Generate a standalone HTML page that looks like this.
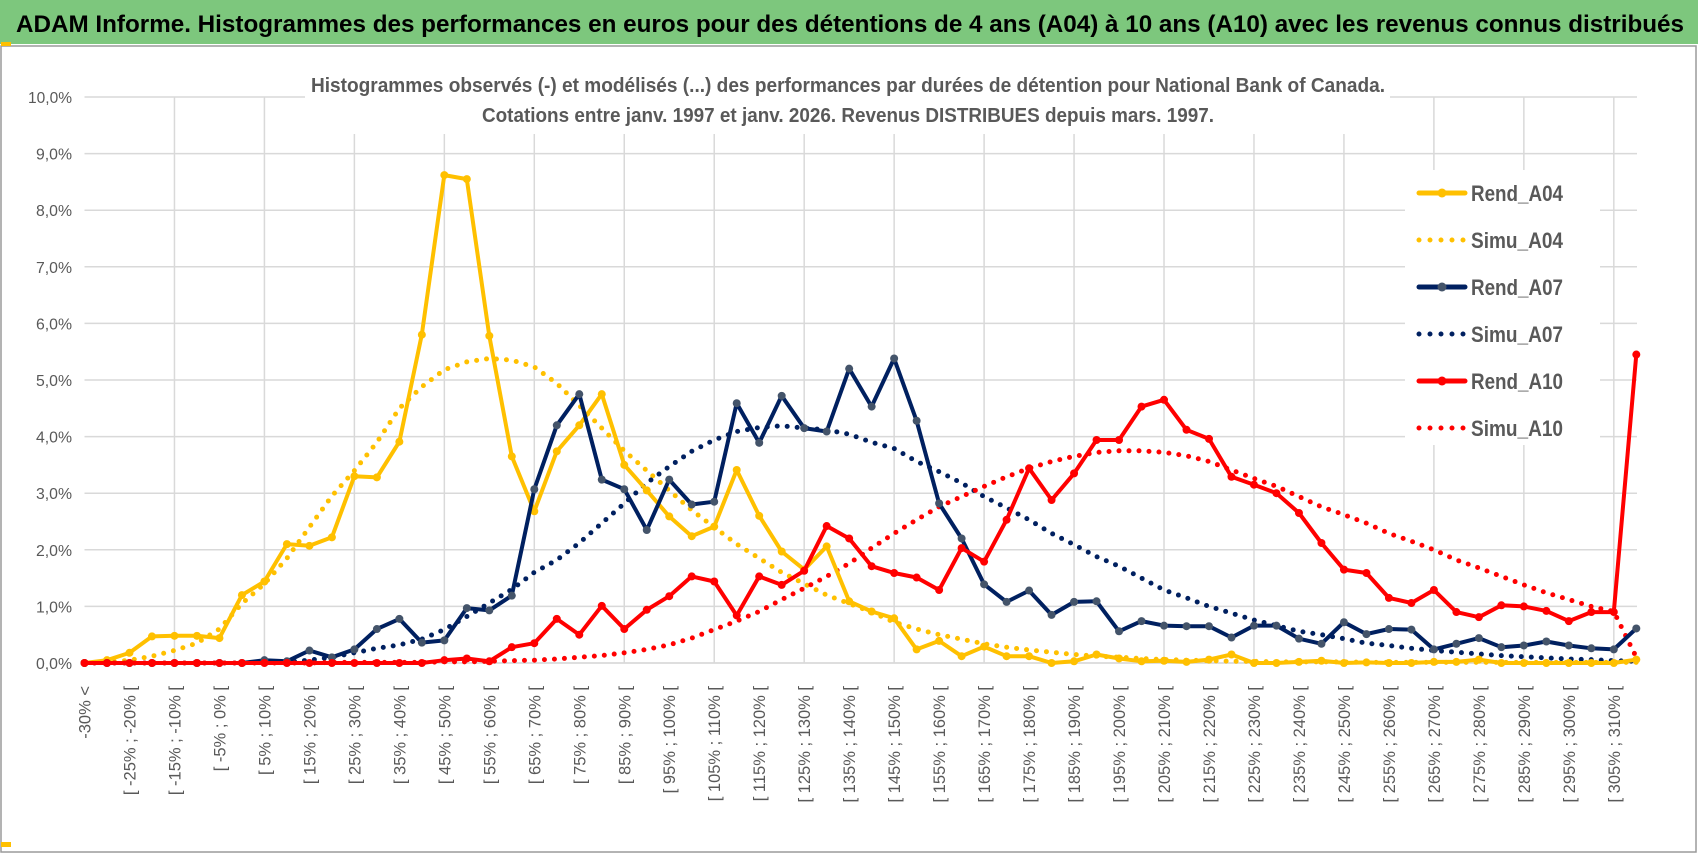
<!DOCTYPE html>
<html><head><meta charset="utf-8"><style>
html,body{margin:0;padding:0;background:#fff;}
svg{display:block;font-family:"Liberation Sans",sans-serif;}
</style></head><body>
<svg id="chart" width="1698" height="854" viewBox="0 0 1698 854" xmlns="http://www.w3.org/2000/svg">
  <rect x="0" y="0" width="1698" height="44" fill="#7dc77d"/>
  <text x="16" y="32" font-size="24" font-weight="bold" fill="#000" textLength="1668" lengthAdjust="spacingAndGlyphs">ADAM Informe. Histogrammes des performances en euros pour des détentions de 4 ans (A04) à 10 ans (A10) avec les revenus connus distribués</text>
  <rect x="1" y="46" width="1695" height="806" fill="none" stroke="#9a9a9a" stroke-width="1.5"/>
  <rect x="1" y="42" width="10" height="4" fill="#ffc000"/>
  <rect x="1" y="842" width="10" height="5" fill="#ffc000"/>
  <g id="grid"></g>
  <g id="axes"></g>
  <g id="series"></g>
  <rect x="305" y="64" width="1085" height="70" fill="#fff"/>
  <text x="848" y="92" text-anchor="middle" font-size="20" font-weight="bold" fill="#595959" textLength="1074" lengthAdjust="spacingAndGlyphs">Histogrammes observés (-) et modélisés (...) des performances par durées de détention pour National Bank of Canada.</text>
  <text x="848" y="122" text-anchor="middle" font-size="20" font-weight="bold" fill="#595959" textLength="732" lengthAdjust="spacingAndGlyphs">Cotations entre janv. 1997 et janv. 2026. Revenus DISTRIBUES depuis mars. 1997.</text>
  <g id="legend"></g>
</svg>
<script>
const categories = (function(){const c=["-30% <"];for(let a=-30;a<310;a+=5){c.push("[ "+a+"% ; "+(a+5)+"% [");}c.push("310% >");return c;})();
const rendA04 = [0,0.05,0.18,0.47,0.48,0.48,0.44,1.2,1.44,2.1,2.07,2.22,3.3,3.28,3.91,5.8,8.62,8.55,5.78,3.65,2.68,3.74,4.2,4.75,3.5,3.05,2.59,2.24,2.41,3.41,2.6,1.97,1.65,2.06,1.09,0.91,0.79,0.24,0.39,0.12,0.29,0.12,0.12,0.0,0.03,0.15,0.08,0.03,0.04,0.02,0.06,0.15,0.0,0.0,0.02,0.04,0.0,0.01,0.0,0.0,0.02,0.02,0.06,0.0,0.0,0.0,0.0,0.0,0.0,0.06];
const simuA04 = [0,0.01,0.05,0.12,0.22,0.35,0.6,1.05,1.4,1.85,2.4,2.95,3.4,3.9,4.5,4.88,5.18,5.32,5.38,5.35,5.23,4.94,4.55,4.15,3.75,3.4,3.05,2.7,2.4,2.1,1.85,1.6,1.4,1.2,1.05,0.9,0.72,0.6,0.5,0.42,0.34,0.28,0.23,0.19,0.15,0.12,0.1,0.08,0.06,0.05,0.04,0.03,0.03,0.02,0.02,0.02,0.02,0.01,0.01,0.01,0.01,0.01,0.01,0.01,0.01,0.01,0.01,0.01,0.01,0.01];
const rendA07 = [0,0,0,0,0,0,0,0,0.05,0.03,0.22,0.1,0.24,0.6,0.78,0.36,0.4,0.97,0.93,1.19,3.07,4.2,4.75,3.24,3.07,2.35,3.24,2.8,2.85,4.59,3.89,4.72,4.15,4.09,5.2,4.53,5.38,4.28,2.82,2.2,1.39,1.08,1.28,0.85,1.08,1.09,0.56,0.74,0.66,0.65,0.65,0.45,0.66,0.66,0.43,0.34,0.72,0.51,0.6,0.59,0.24,0.34,0.44,0.28,0.31,0.38,0.31,0.26,0.24,0.61];
const simuA07 = [0,0,0,0,0,0,0,0,0.01,0.02,0.05,0.1,0.18,0.26,0.32,0.42,0.59,0.82,1.06,1.3,1.6,1.82,2.12,2.47,2.82,3.18,3.47,3.74,3.94,4.09,4.16,4.19,4.15,4.12,4.04,3.9,3.79,3.56,3.38,3.18,2.94,2.74,2.53,2.29,2.09,1.88,1.71,1.5,1.29,1.15,1.0,0.88,0.76,0.66,0.56,0.5,0.43,0.35,0.31,0.26,0.22,0.19,0.16,0.13,0.11,0.09,0.07,0.06,0.04,0.03];
const rendA10 = [0,0,0,0,0,0,0,0,0,0,0,0,0,0,0,0,0.05,0.08,0.03,0.28,0.35,0.78,0.5,1.01,0.6,0.94,1.18,1.53,1.44,0.84,1.53,1.38,1.63,2.42,2.2,1.71,1.59,1.51,1.29,2.03,1.79,2.53,3.44,2.88,3.35,3.94,3.94,4.53,4.65,4.12,3.96,3.29,3.15,3.0,2.65,2.12,1.65,1.59,1.15,1.06,1.29,0.9,0.81,1.02,1.0,0.92,0.74,0.9,0.9,5.45];
const simuA10 = [0,0,0,0,0,0,0,0,0,0,0,0.01,0.01,0.01,0.01,0.01,0.02,0.02,0.03,0.04,0.05,0.07,0.1,0.13,0.18,0.24,0.32,0.44,0.59,0.74,0.91,1.12,1.32,1.53,1.76,2.03,2.29,2.53,2.76,2.94,3.12,3.29,3.44,3.56,3.65,3.72,3.75,3.75,3.72,3.66,3.56,3.41,3.26,3.12,2.94,2.76,2.62,2.47,2.29,2.15,2.0,1.82,1.68,1.53,1.38,1.24,1.12,1.0,0.91,0.1];
const yTicks = [0,1,2,3,4,5,6,7,8,9,10];
const yTickLabels = ["0,0%","1,0%","2,0%","3,0%","4,0%","5,0%","6,0%","7,0%","8,0%","9,0%","10,0%"];
const seriesNames = ["Rend_A04","Simu_A04","Rend_A07","Simu_A07","Rend_A10","Simu_A10"];

const NS="http://www.w3.org/2000/svg";
const X0=84.5, DX=22.49, Y0=663, DY=56.6, XR=1637;
function xs(i){return X0+i*DX;}
function ys(v){return Y0-v*DY;}
function mk(tag,attrs,parent){const e=document.createElementNS(NS,tag);for(const k in attrs)e.setAttribute(k,attrs[k]);parent.appendChild(e);return e;}

const grid=document.getElementById('grid');
yTicks.forEach((t,i)=>{
  const l=mk('line',{x1:X0,x2:XR,y1:ys(t),y2:ys(t),stroke:'#d9d9d9','stroke-width':1.5},grid);
  
  
});
for(let i=4;i<categories.length;i+=4){
  const l=mk('line',{x1:xs(i),x2:xs(i),y1:ys(10),y2:Y0,stroke:'#d9d9d9','stroke-width':1.5},grid);
  
  
}
const axes=document.getElementById('axes');
const ax=mk('line',{x1:X0,x2:XR,y1:Y0,y2:Y0,stroke:'#d9d9d9','stroke-width':1.5},axes);


yTicks.forEach((t,i)=>{
  const tx=mk('text',{x:72,y:ys(t)+6,'text-anchor':'end','font-size':16,fill:'#595959',textLength:(yTickLabels[i].length>4?44:36),lengthAdjust:'spacingAndGlyphs'},axes);
  tx.textContent=yTickLabels[i];
  
  
});
categories.forEach((c,i)=>{
  if(i%2!==0||i>68)return;
  const x=xs(i)+6;
  const tx=mk('text',{x:0,y:0,'text-anchor':'end','font-size':16.5,fill:'#595959',transform:'translate('+x+',686) rotate(-90)'},axes);
  tx.textContent=c;
  
  
});

const ser=document.getElementById('series');
function pts(arr){return arr.map((v,i)=>xs(i).toFixed(1)+','+ys(v).toFixed(1)).join(' ');}
function solid(arr,color,mcolor,name){
  const g=mk('g',{},ser);
  
  
  const p=mk('polyline',{points:pts(arr),fill:'none',stroke:color,'stroke-width':4,'stroke-linejoin':'round'},g);
  
  
  arr.forEach((v,i)=>{
    const c=mk('circle',{cx:xs(i),cy:ys(v),r:4,fill:mcolor},g);
    
    
  });
}
function dotted(arr,color,name){
  const p=mk('polyline',{points:pts(arr),fill:'none',stroke:color,'stroke-width':5,'stroke-dasharray':'0 10','stroke-linecap':'round'},ser);
  
  
}
dotted(simuA04,'#ffc000','simu-a04-line');
dotted(simuA07,'#002060','simu-a07-line');
dotted(simuA10,'#ff0000','simu-a10-line');
solid(rendA04,'#ffc000','#ffc000','rend-a04');
solid(rendA07,'#002060','#44546a','rend-a07');
solid(rendA10,'#ff0000','#ff0000','rend-a10');

const leg=document.getElementById('legend');
const lbg=mk('rect',{x:1405,y:170,width:195,height:275,fill:'#fff'},leg);


const lcols=['#ffc000','#ffc000','#002060','#002060','#ff0000','#ff0000'];
const lmark=['#ffc000',null,'#44546a',null,'#ff0000',null];
seriesNames.forEach((n,i)=>{
  const y=193+i*47;
  const g=mk('g',{},leg);
  
  
  if(lmark[i]){
    mk('line',{x1:1419,x2:1465,y1:y,y2:y,stroke:lcols[i],'stroke-width':5,'stroke-linecap':'round'},g);
    mk('circle',{cx:1442,cy:y,r:4.5,fill:lmark[i]},g);
  } else {
    mk('line',{x1:1419,x2:1465,y1:y,y2:y,stroke:lcols[i],'stroke-width':5,'stroke-dasharray':'0 11','stroke-linecap':'round'},g);
  }
  const t=mk('text',{x:1471,y:y+8,'font-size':22,'font-weight':'bold',fill:'#595959',textLength:92,lengthAdjust:'spacingAndGlyphs'},g);
  t.textContent=n;
  
  
});
</script>
</body></html>
